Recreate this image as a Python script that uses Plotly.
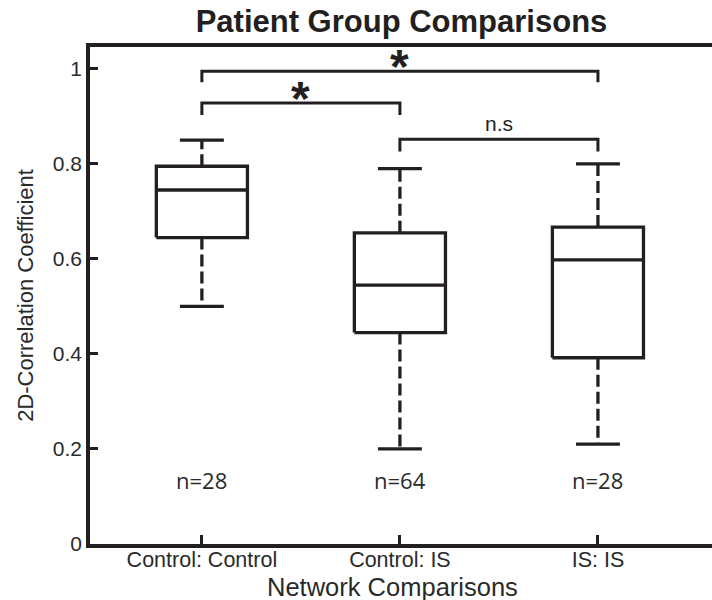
import plotly.graph_objects as go

# Group summaries (2D correlation coefficient)
groups = ["Control: Control", "Control: IS", "IS: IS"]
n_labels = ["n=28", "n=64", "n=28"]
lower_whisker = [0.50, 0.20, 0.21]
q1 = [0.645, 0.445, 0.392]
median = [0.745, 0.545, 0.598]
q3 = [0.795, 0.655, 0.667]
upper_whisker = [0.85, 0.79, 0.80]

# Significance brackets: (left group, right group, bar height, drop height, label)
brackets = [
    (1, 3, 0.995, 0.972, "*"),
    (1, 2, 0.928, 0.903, "*"),
    (2, 3, 0.852, 0.826, "n.s"),
]

ink = "#231f20"
text_col = "#2a2a2a"
font_main = "Liberation Sans, Arial, Helvetica, sans-serif"
box_half = 0.23
cap_half = 0.111
xs = [1, 2, 3]

box_x, box_y = [], []
whisk_x, whisk_y = [], []
cap_x, cap_y = [], []
for x, lo, a, m, b, hi in zip(xs, lower_whisker, q1, median, q3, upper_whisker):
    # box outline and median
    box_x += [x - box_half, x + box_half, x + box_half, x - box_half, x - box_half, None,
              x - box_half, x + box_half, None]
    box_y += [a, a, b, b, a, None, m, m, None]
    # dashed whiskers
    whisk_x += [x, x, None, x, x, None]
    whisk_y += [b, hi, None, a, lo, None]
    # whisker caps
    cap_x += [x - cap_half, x + cap_half, None, x - cap_half, x + cap_half, None]
    cap_y += [hi, hi, None, lo, lo, None]

fig = go.Figure()
fig.add_trace(go.Scatter(x=whisk_x, y=whisk_y, mode="lines",
                         line=dict(color=ink, width=3.3, dash="12px,5px"),
                         hoverinfo="skip", showlegend=False))
fig.add_trace(go.Scatter(x=box_x, y=box_y, mode="lines",
                         line=dict(color=ink, width=3.3),
                         hoverinfo="skip", showlegend=False))
fig.add_trace(go.Scatter(x=cap_x, y=cap_y, mode="lines",
                         line=dict(color=ink, width=3.3),
                         hoverinfo="skip", showlegend=False))

# brackets
br_x, br_y = [], []
for left, right, top, drop, _ in brackets:
    br_x += [left, left, right, right, None]
    br_y += [drop, top, top, drop, None]
fig.add_trace(go.Scatter(x=br_x, y=br_y, mode="lines",
                         line=dict(color=ink, width=3),
                         hoverinfo="skip", showlegend=False))

annotations = []
for left, right, top, drop, label in brackets:
    if label == "*":
        annotations.append(dict(x=(left + right) / 2, y=top, xref="x", yref="y",
                                text="*", showarrow=False, yanchor="bottom",
                                yshift=-24,
                                font=dict(family=font_main, size=48, color=ink, weight="bold")))
    else:
        annotations.append(dict(x=(left + right) / 2, y=top, xref="x", yref="y",
                                text=label, showarrow=False, yanchor="bottom", yshift=2,
                                font=dict(family=font_main, size=21, color=ink)))

for x, lab in zip(xs, n_labels):
    annotations.append(dict(x=x, y=0.135, xref="x", yref="y", text=lab, showarrow=False,
                            yanchor="middle",
                            font=dict(family="Open Sans, sans-serif", size=22, color=text_col)))

# x-axis title
annotations.append(dict(x=(392 - 90) / 622, y=-43 / 497, xref="paper", yref="paper",
                        text="Network Comparisons", showarrow=False,
                        xanchor="center", yanchor="middle",
                        font=dict(family=font_main, size=25.5, color=text_col)))

fig.update_layout(
    width=712, height=600,
    margin=dict(l=90, r=0, t=47, b=56),
    plot_bgcolor="white", paper_bgcolor="white",
    title=dict(text="Patient Group Comparisons", x=401.5 / 712, xanchor="center",
               y=1 - 21 / 600, yanchor="middle",
               font=dict(family=font_main, size=31, color=ink, weight="bold")),
    font=dict(family=font_main, size=21, color=text_col),
    annotations=annotations,
)
fig.update_xaxes(
    range=[0.435, 3.576], tickmode="array", tickvals=xs, ticktext=groups,
    ticks="inside", ticklen=9, tickwidth=3, tickcolor=ink,
    showline=True, linecolor=ink, linewidth=3.5, mirror=True,
    showgrid=False, zeroline=False, ticklabelstandoff=-7,
    tickfont=dict(family=font_main, size=21.5, color=text_col),
)
fig.update_yaxes(
    range=[0, 1.046], tickvals=[0, 0.2, 0.4, 0.6, 0.8, 1],
    ticktext=["0", "0.2", "0.4", "0.6", "0.8", "1"],
    ticks="inside", ticklen=8, tickwidth=3, tickcolor=ink,
    showline=True, linecolor=ink, linewidth=3.5, mirror=False,
    showgrid=False, zeroline=False,
    tickfont=dict(family=font_main, size=21, color=text_col),
    title=dict(text="2D-Correlation Coefficient", standoff=14,
               font=dict(family=font_main, size=22, color=text_col)),
)

fig.write_html("out.html")
